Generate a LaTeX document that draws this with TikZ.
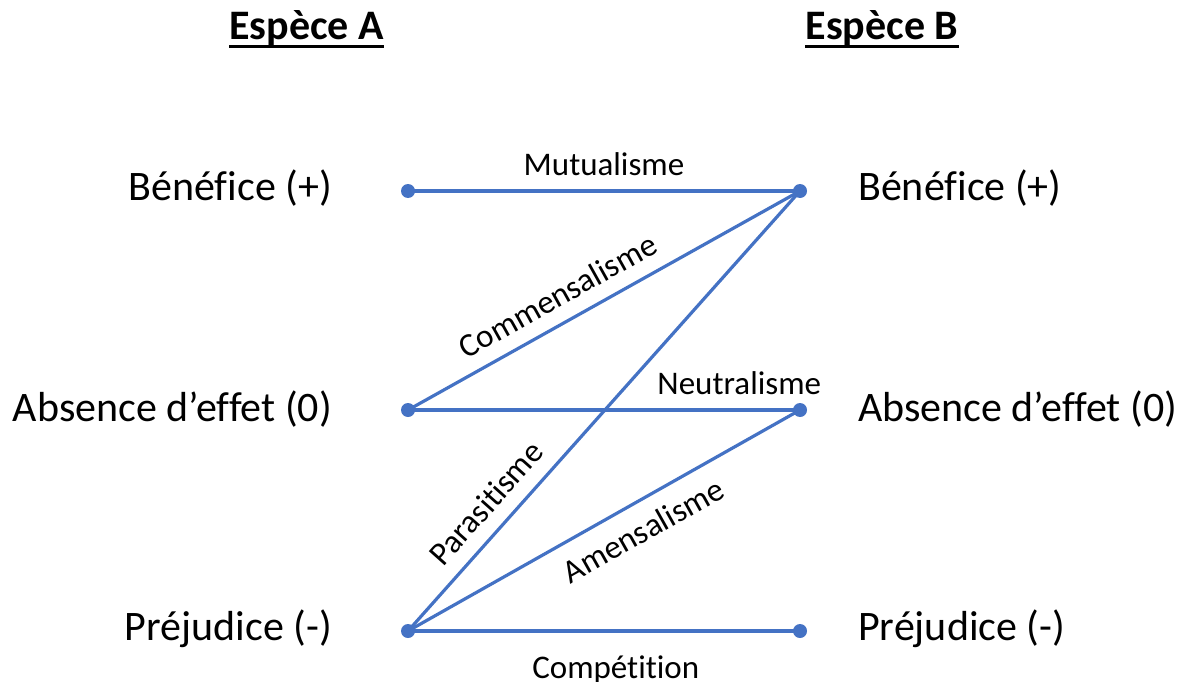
\documentclass[tikz,border=0pt]{standalone}
\usepackage{fontspec}
\setmainfont[Ligatures=NoCommon]{Carlito}
\definecolor{lineblue}{HTML}{4472C4}
\begin{document}
\begin{tikzpicture}[x=1pt,y=-1pt,
  dot/.style={circle,fill=lineblue,inner sep=0pt,minimum size=14pt},
  conn/.style={draw=lineblue,line width=3.2pt},
  cat/.style={font=\fontsize{42}{50}\selectfont,inner sep=0pt},
  ttl/.style={font=\bfseries\fontsize{42}{50}\selectfont,inner sep=0pt,anchor=base},
  lbl/.style={font=\fontsize{33}{40}\selectfont,inner sep=0pt,text height=0.66em,text depth=0pt,sloped}]
\useasboundingbox (0,0) rectangle (1188,682);
% titles
\node[ttl] (tA) at (306.5,40) {Espèce A};
\node[ttl] (tB) at (882,40) {Espèce B};
\draw[line width=3pt] ([yshift=-7pt]tA.base west) -- ([yshift=-7pt]tA.base east);
\draw[line width=3pt] ([yshift=-7pt]tB.base west) -- ([yshift=-7pt]tB.base east);
% category labels
\node[cat,anchor=base east] (la1) at (332,200) {Bénéfice (+)};
\node[cat,anchor=base east] (la2) at (332,421) {Absence d’effet (0)};
\node[cat,anchor=base east] (la3) at (332,640) {Préjudice (-)};
\node[cat,anchor=base west] (lb1) at (858,200) {Bénéfice (+)};
\node[cat,anchor=base west] (lb2) at (858,421) {Absence d’effet (0)};
\node[cat,anchor=base west] (lb3) at (858,640) {Préjudice (-)};
% dots
\node[dot] (a1) at (408,191) {};
\node[dot] (a2) at (408,410) {};
\node[dot] (a3) at (408,631) {};
\node[dot] (b1) at (800,191) {};
\node[dot] (b2) at (800,410) {};
\node[dot] (b3) at (800,631) {};
% connectors
\draw[conn] (a1.center) -- node[lbl,pos=0.5,above=14pt] {Mutualisme} (b1.center);
\draw[conn] (a2.center) -- node[lbl,pos=0.415,above=14pt] {Commensalisme} (b1.center);
\draw[conn] (a3.center) -- node[lbl,pos=0.25,above=14pt] {Parasitisme} (b1.center);
\draw[conn] (a2.center) -- node[lbl,pos=0.845,above=14pt] {Neutralisme} (b2.center);
\draw[conn] (a3.center) -- node[lbl,pos=0.565,below=31pt] {Amensalisme} (b2.center);
\draw[conn] (a3.center) -- node[lbl,pos=0.53,below=39pt] {Compétition} (b3.center);
\end{tikzpicture}
\end{document}
